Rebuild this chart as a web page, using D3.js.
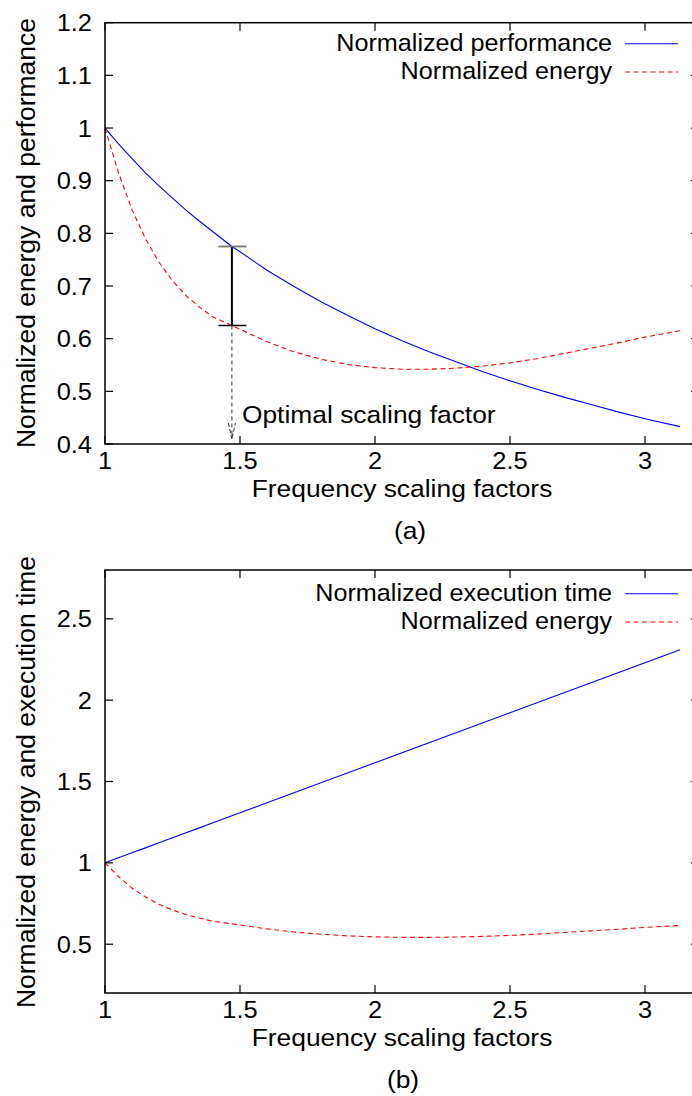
<!DOCTYPE html>
<html>
<head>
<meta charset="utf-8">
<script src="https://cdn.jsdelivr.net/npm/d3@7"></script>
<style>
  html, body { margin: 0; padding: 0; background: #fff; }
  svg { display: block; }
  text { font-family: "Liberation Sans", Arial, Helvetica, sans-serif; fill: #000; }
</style>
</head>
<body>
<svg id="chart" width="692" height="1096"></svg>
<script>
// ---------- data ----------
const scalingFactors = [1.0, 1.05, 1.1, 1.15, 1.2, 1.25, 1.3, 1.35, 1.4, 1.47, 1.5, 1.6, 1.7, 1.8, 1.9, 2.0, 2.1, 2.2, 2.3, 2.4, 2.5, 2.6, 2.7, 2.8, 2.9, 3.0, 3.13];
const normPerformance = [1.000, 0.970, 0.942, 0.915, 0.890, 0.867, 0.844, 0.823, 0.803, 0.775, 0.765, 0.730, 0.699, 0.670, 0.644, 0.619, 0.596, 0.575, 0.556, 0.537, 0.520, 0.504, 0.489, 0.475, 0.461, 0.448, 0.433];
const normEnergy = [1.000, 0.915, 0.845, 0.790, 0.745, 0.710, 0.682, 0.660, 0.641, 0.625, 0.618, 0.594, 0.575, 0.561, 0.551, 0.545, 0.542, 0.542, 0.544, 0.548, 0.554, 0.562, 0.572, 0.582, 0.592, 0.603, 0.615];
const normExecTime = [1.000, 1.031, 1.062, 1.092, 1.123, 1.154, 1.185, 1.215, 1.246, 1.289, 1.308, 1.369, 1.431, 1.492, 1.554, 1.615, 1.677, 1.738, 1.800, 1.861, 1.923, 1.984, 2.046, 2.107, 2.169, 2.230, 2.310];

const xTicks = [1, 1.5, 2, 2.5, 3];
const yTicksA = [0.4, 0.5, 0.6, 0.7, 0.8, 0.9, 1.0, 1.1, 1.2];
const yTicksB = [0.5, 1, 1.5, 2, 2.5];

const optimalFactor = 1.47;
const optimalPerf = 0.775;
const optimalEnergy = 0.625;

const seriesA = [
  { name: "Normalized performance", values: normPerformance, color: "#0000ff", dash: null },
  { name: "Normalized energy", values: normEnergy, color: "#ff0000", dash: "5,3.5" }
];
const seriesB = [
  { name: "Normalized execution time", values: normExecTime, color: "#0000ff", dash: null },
  { name: "Normalized energy", values: normEnergy, color: "#ff0000", dash: "5,3.5" }
];

// ---------- drawing ----------
const svg = d3.select("#chart");
const FS = 24;

function addText(g, x, y, str, anchor, fs, sx) {
  return g.append("text")
    .attr("transform", `translate(${x},${y}) scale(${sx},1)`)
    .attr("text-anchor", anchor).attr("font-size", fs).text(str);
}

function panel(opts) {
  const g = svg.append("g");
  const x = d3.scaleLinear().domain([1, 3.2]).range([105, 699]);
  const y = d3.scaleLinear().domain(opts.yDomain).range([opts.bottom, opts.top]);
  const tickLen = 8;

  const line = d3.line().x((d, i) => x(scalingFactors[i])).y(d => y(d));
  opts.series.forEach(s => {
    g.append("path")
      .attr("d", line(s.values))
      .attr("fill", "none")
      .attr("stroke", s.color)
      .attr("stroke-width", 1.1)
      .attr("stroke-dasharray", s.dash);
  });

  g.append("rect")
    .attr("x", x(1)).attr("y", opts.top)
    .attr("width", x(3.2) - x(1)).attr("height", opts.bottom - opts.top)
    .attr("fill", "none").attr("stroke", "#000").attr("stroke-width", 1.5);

  xTicks.forEach(t => {
    g.append("line").attr("x1", x(t)).attr("x2", x(t))
      .attr("y1", opts.bottom).attr("y2", opts.bottom - tickLen)
      .attr("stroke", "#000").attr("stroke-width", 1.2);
    g.append("line").attr("x1", x(t)).attr("x2", x(t))
      .attr("y1", opts.top).attr("y2", opts.top + tickLen)
      .attr("stroke", "#000").attr("stroke-width", 1.2);
    addText(g, x(t), opts.bottom + 25, d3.format("~g")(t), "middle", FS, 1.06);
  });
  opts.yTicks.forEach(t => {
    g.append("line").attr("x1", x(1)).attr("x2", x(1) + tickLen)
      .attr("y1", y(t)).attr("y2", y(t))
      .attr("stroke", "#000").attr("stroke-width", 1.2);
    g.append("line").attr("x1", x(3.2)).attr("x2", x(3.2) - tickLen)
      .attr("y1", y(t)).attr("y2", y(t))
      .attr("stroke", "#000").attr("stroke-width", 1.2);
    addText(g, 92, y(t) + 8.5, d3.format("~g")(t), "end", FS, 1.06);
  });

  addText(g, 402, opts.bottom + 53, "Frequency scaling factors", "middle", FS, 1.1);
  g.append("text")
    .attr("transform", `translate(35,${opts.yLabelCenter}) rotate(-90)`)
    .attr("text-anchor", "middle").attr("font-size", 26.5).text(opts.yLabel);
  addText(g, opts.capX, opts.bottom + 95, opts.caption, "middle", FS, 1.1);

  opts.series.forEach((s, i) => {
    const by = opts.legendY + i * 28.3;
    addText(g, 612, by, s.name, "end", FS, 1.05);
    g.append("line").attr("x1", 625).attr("x2", 678)
      .attr("y1", by - 7).attr("y2", by - 7)
      .attr("stroke", s.color).attr("stroke-width", 1.1)
      .attr("stroke-dasharray", s.dash);
  });
  return { g, x, y };
}

const A = panel({
  top: 22.7, bottom: 444, yDomain: [0.4, 1.2], yTicks: yTicksA, series: seriesA,
  yLabel: "Normalized energy and performance", yLabelCenter: 233, caption: "(a)", capX: 410,
  legendY: 50.7
});
panel({
  top: 570, bottom: 993, yDomain: [0.2, 2.8], yTicks: yTicksB, series: seriesB,
  yLabel: "Normalized energy and execution time", yLabelCenter: 782, caption: "(b)", capX: 403,
  legendY: 600.7
});

// annotation on panel (a)
const ax = A.x(optimalFactor);
const yTop = A.y(optimalPerf), yBot = A.y(optimalEnergy), yAxis = A.y(0.4);
A.g.append("line").attr("x1", ax).attr("x2", ax).attr("y1", yTop).attr("y2", yBot)
  .attr("stroke", "#000").attr("stroke-width", 2);
A.g.append("line").attr("x1", ax - 13.5).attr("x2", ax + 14.5).attr("y1", yTop).attr("y2", yTop)
  .attr("stroke", "#777").attr("stroke-width", 1.8);
A.g.append("line").attr("x1", ax - 13.5).attr("x2", ax + 14.5).attr("y1", yBot).attr("y2", yBot)
  .attr("stroke", "#000").attr("stroke-width", 1.5);
A.g.append("line").attr("x1", ax).attr("x2", ax).attr("y1", yBot).attr("y2", yAxis - 5)
  .attr("stroke", "#333").attr("stroke-width", 1).attr("stroke-dasharray", "4,3");
A.g.append("path")
  .attr("d", `M${ax - 3.5},${yAxis - 21} L${ax},${yAxis - 5} L${ax + 3.5},${yAxis - 21}`)
  .attr("fill", "none").attr("stroke", "#333").attr("stroke-width", 1).attr("stroke-dasharray", "4,2");
addText(A.g, ax + 10, yAxis - 21, "Optimal scaling factor", "start", FS, 1.1);
</script>
</body>
</html>
